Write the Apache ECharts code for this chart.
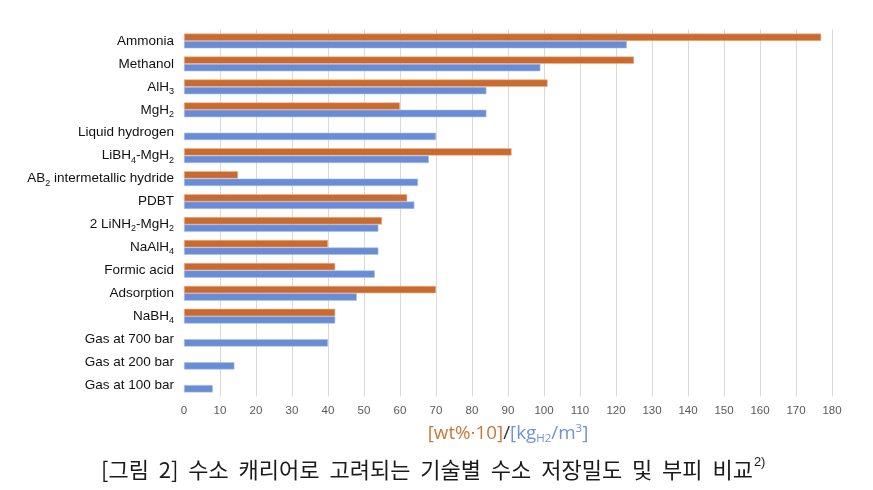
<!DOCTYPE html>
<html>
<head>
<meta charset="utf-8">
<script src="https://cdn.jsdelivr.net/npm/echarts@6/dist/echarts.min.js"></script>
<style>html,body{margin:0;padding:0;background:#fff}#c{width:873px;height:490px}</style>
</head>
<body>
<div id="c"></div>
<script>
// category labels (rich-text markup: {s|..} = subscript)
var categories = [
  'Ammonia', 'Methanol', 'AlH{s|3}', 'MgH{s|2}', 'Liquid hydrogen',
  'LiBH{s|4}-MgH{s|2}', 'AB{s|2} intermetallic hydride', 'PDBT',
  '2 LiNH{s|2}-MgH{s|2}', 'NaAlH{s|4}', 'Formic acid', 'Adsorption',
  'NaBH{s|4}', 'Gas at 700 bar', 'Gas at 200 bar', 'Gas at 100 bar'
];
// [wt%·10]
var wtValues = [177, 125, 101, 60, null, 91, 15, 62, 55, 40, 42, 70, 42, null, null, null];
// [kgH2/m3]
var volValues = [123, 99, 84, 84, 70, 68, 65, 64, 54, 54, 53, 48, 42, 40, 14, 8];
var xTicks = [0, 180, 10];
var captionWords = ['[그림', '2]', '수소', '캐리어로', '고려되는', '기술별', '수소', '저장밀도', '및', '부피', '비교'];

function toRich(str) {
  var out = '';
  var re = /\{s\|([^}]*)\}/g, last = 0, m;
  while ((m = re.exec(str)) !== null) {
    if (m.index > last) out += '{a|' + str.slice(last, m.index) + '}';
    out += '{s|' + m[1] + '}';
    last = re.lastIndex;
  }
  if (last < str.length) out += '{a|' + str.slice(last) + '}';
  return out;
}

var chart = echarts.init(document.getElementById('c'), null, {renderer: 'canvas'});
var option = {
  animation: false,
  backgroundColor: '#fff',
  title: {
    text: '{t|' + captionWords.join('  ') + '}{sup|2)}',
    left: 96, top: 451,
    textStyle: {
      rich: {
        t: {fontFamily: 'Noto Sans CJK KR', fontSize: 22, fontWeight: 'normal', color: '#1a1a1a', lineHeight: 28},
        sup: {fontFamily: 'Liberation Sans', fontSize: 13, fontWeight: 'normal', color: '#1a1a1a', lineHeight: 13, verticalAlign: 'top', padding: [0, 0, 15, 1]}
      }
    }
  },
  grid: {left: 184, right: 41, top: 29.5, bottom: 93.5, containLabel: false},
  xAxis: {
    type: 'value', min: xTicks[0], max: xTicks[1], interval: xTicks[2],
    axisLine: {show: false}, axisTick: {show: false},
    axisLabel: {color: '#595959', fontFamily: 'Liberation Sans', fontSize: 11.5, margin: 8},
    splitLine: {show: true, showMinLine: false, lineStyle: {color: '#d9d9d9', width: 1}},
    name: '{o|[wt%·10]}{k|/}{b|[kg}{bs|H2}{b|/m}{bsup|3}{b|]}',
    nameLocation: 'middle', nameGap: 18,
    nameTextStyle: {
      rich: {
        o: {fontFamily: 'Open Sans', fontSize: 18.8, color: '#c8793a', lineHeight: 22},
        k: {fontFamily: 'Open Sans', fontSize: 18.8, color: '#333', lineHeight: 22},
        b: {fontFamily: 'Open Sans', fontSize: 18.8, color: '#6f93d6', lineHeight: 22},
        bs: {fontFamily: 'Open Sans', fontSize: 11.5, color: '#6f93d6', lineHeight: 11, verticalAlign: 'bottom', padding: [11, 0, 0, 0]},
        bsup: {fontFamily: 'Open Sans', fontSize: 11.5, color: '#6f93d6', lineHeight: 11, verticalAlign: 'top', padding: [0, 0, 11, 0]}
      }
    }
  },
  yAxis: {
    type: 'category', data: categories, inverse: true,
    axisLine: {show: false}, axisTick: {show: false},
    axisLabel: {
      margin: 10,
      formatter: function (v) { return toRich(v); },
      rich: {
        a: {fontFamily: 'Liberation Sans', fontSize: 13.5, color: '#111', lineHeight: 18},
        s: {fontFamily: 'Liberation Sans', fontSize: 9, color: '#111', lineHeight: 9, verticalAlign: 'bottom', padding: [9, 0, 0, 0]}
      }
    }
  },
  series: [
    {
      name: 'wt', type: 'bar', data: wtValues, barWidth: 7.4, barGap: '0%',
      itemStyle: {color: '#c96b30', borderColor: '#efb58a', borderWidth: 0.6}
    },
    {
      name: 'vol', type: 'bar', data: volValues, barWidth: 7.4,
      itemStyle: {color: '#6a8cd5', borderColor: '#a9c0ec', borderWidth: 0.6}
    }
  ]
};
chart.setOption(option);
</script>
</body>
</html>
